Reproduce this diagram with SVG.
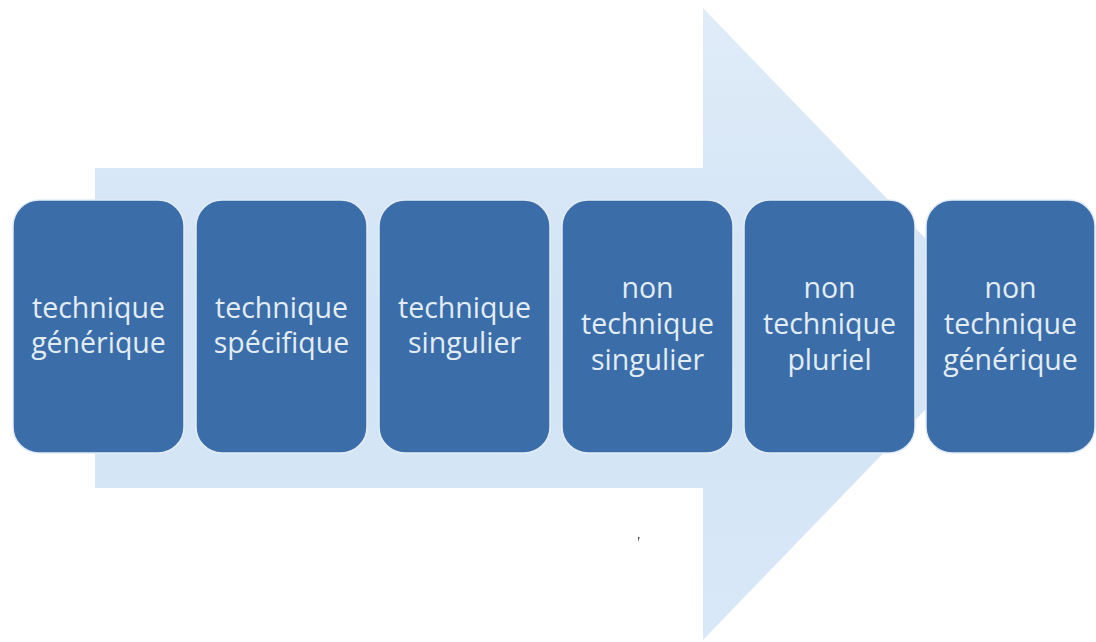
<svg xmlns="http://www.w3.org/2000/svg" width="1096" height="642" viewBox="0 0 1096 642">
  <defs>
    <linearGradient id="arrowGrad" x1="0" y1="0" x2="0" y2="1">
      <stop offset="0" stop-color="#e0ecf8"/>
      <stop offset="0.5" stop-color="#d1e3f5"/>
      <stop offset="1" stop-color="#d9e8f7"/>
    </linearGradient>
  </defs>
  <style>
    .box { fill: #3b6da9; stroke: #e2ebf5; stroke-width: 1.5; }
    .lbl { font-family: "Open Sans", "Noto Sans", "DejaVu Sans", sans-serif; font-size: 28.5px; fill: #e2ecf5; text-anchor: middle; }
  </style>
  <rect width="1096" height="642" fill="#ffffff"/>
  <g id="arrow">
    <path d="M95,168 L703,168 L703,8 L1008,324 L703,640 L703,488 L95,488 Z" fill="url(#arrowGrad)"/>
  </g>
  <g id="connectors"></g>
  <g id="n1">
    <rect class="box" x="13" y="200" width="171" height="253" rx="26" ry="26"/>
    <text class="lbl" x="98.5" y="318">technique</text>
    <text class="lbl" x="98.5" y="353">générique</text>
  </g>
  <g id="n2">
    <rect class="box" x="196" y="200" width="171" height="253" rx="26" ry="26"/>
    <text class="lbl" x="281.5" y="318">technique</text>
    <text class="lbl" x="281.5" y="353">spécifique</text>
  </g>
  <g id="n3">
    <rect class="box" x="379" y="200" width="171" height="253" rx="26" ry="26"/>
    <text class="lbl" x="464.5" y="318">technique</text>
    <text class="lbl" x="464.5" y="353">singulier</text>
  </g>
  <g id="n4">
    <rect class="box" x="562" y="200" width="171" height="253" rx="26" ry="26"/>
    <text class="lbl" x="647.5" y="298">non</text>
    <text class="lbl" x="647.5" y="334">technique</text>
    <text class="lbl" x="647.5" y="370">singulier</text>
  </g>
  <g id="n5">
    <rect class="box" x="744" y="200" width="171" height="253" rx="26" ry="26"/>
    <text class="lbl" x="829.5" y="298">non</text>
    <text class="lbl" x="829.5" y="334">technique</text>
    <text class="lbl" x="829.5" y="370">pluriel</text>
  </g>
  <g id="n6">
    <rect class="box" x="926" y="200" width="169" height="253" rx="26" ry="26"/>
    <text class="lbl" x="1010.5" y="298">non</text>
    <text class="lbl" x="1010.5" y="334">technique</text>
    <text class="lbl" x="1010.5" y="370">générique</text>
  </g>
  <path d="M638,537 L639.5,537 L638.5,542 Z" fill="#333333"/>
</svg>
